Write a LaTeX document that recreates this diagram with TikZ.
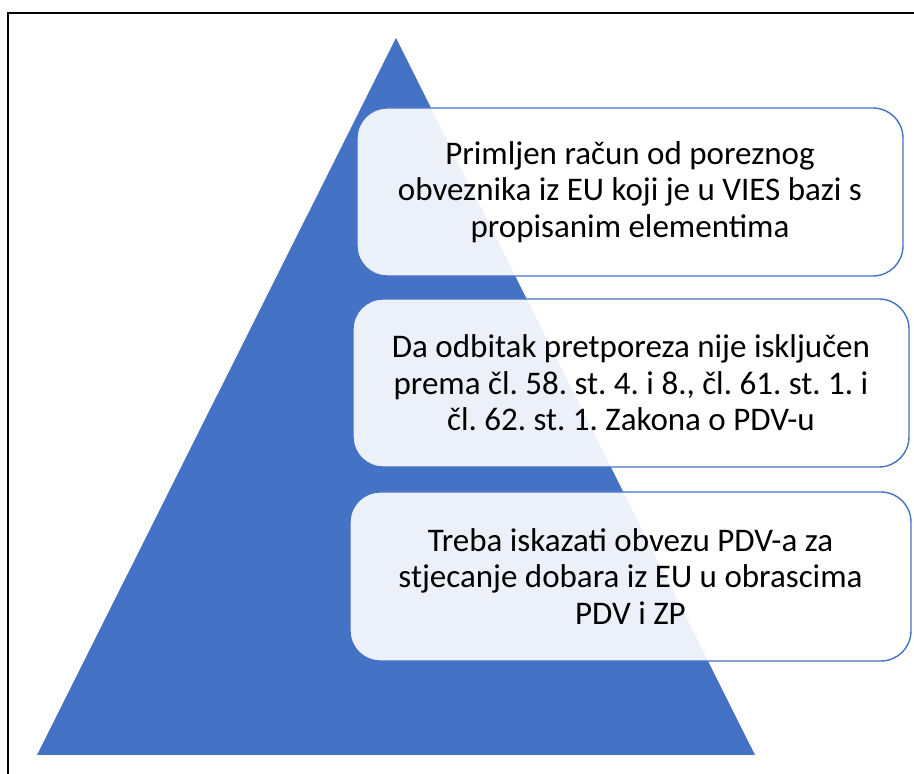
\documentclass[tikz,border=0pt]{standalone}
\usepackage{fontspec}
\setmainfont{Carlito}
\definecolor{pyrblue}{HTML}{4472C4}
\begin{document}
\frenchspacing
\begin{tikzpicture}[x=1pt,y=1pt,
  infobox/.style={draw=pyrblue, line width=1.4pt, fill=white, fill opacity=0.9, text opacity=1,
    rounded corners=30pt, align=center, inner sep=0pt,
    font=\fontsize{33}{36.5}\selectfont, text=black}]
\useasboundingbox (0,0) rectangle (914,774);
\fill[white] (0,0) rectangle (914,774);
\draw[line width=2pt, black] (8,0) -- (8,761) -- (914,761);
\fill[pyrblue] (396,736) -- (37,19) -- (755,19) -- cycle;
\node[infobox, minimum width=546pt, minimum height=168pt] (b1) at (630,582)
  {Primljen račun od poreznog\\obveznika iz EU koji je u VIES bazi s\\propisanim elementima};
\node[infobox, minimum width=556pt, minimum height=168pt] (b2) at (631,391)
  {Da odbitak pretporeza nije isključen\\prema čl. 58. st. 4. i 8., čl. 61. st. 1. i\\čl. 62. st. 1. Zakona o PDV-u};
\node[infobox, minimum width=561pt, minimum height=169pt] (b3) at (630.5,197.5)
  {Treba iskazati obvezu PDV-a za\\stjecanje dobara iz EU u obrascima\\PDV i ZP};
\end{tikzpicture}
\end{document}
